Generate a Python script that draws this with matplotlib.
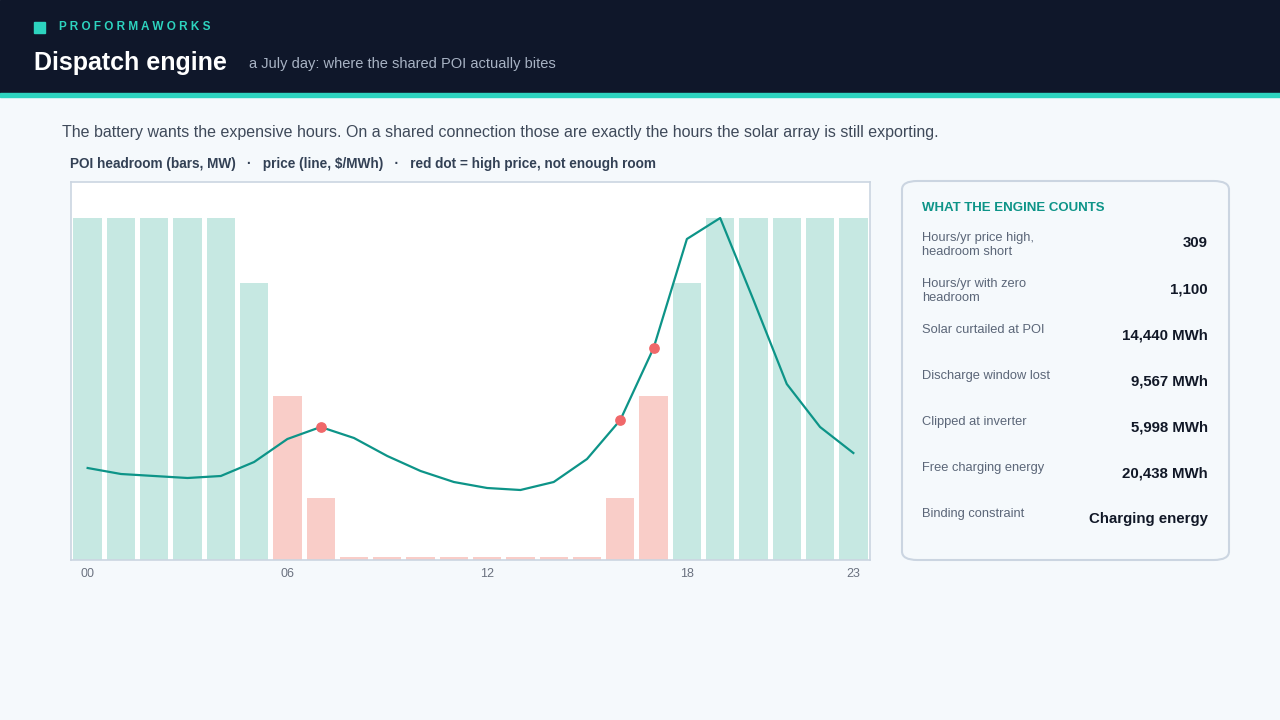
import numpy as np
import matplotlib.pyplot as plt
from matplotlib.patches import FancyBboxPatch, Rectangle

plt.rcParams['font.family'] = ['Liberation Sans', 'DejaVu Sans']

hours = np.arange(24)
headroom = [100, 100, 100, 100, 100, 81, 48, 18, 1, 1, 1, 1, 1, 1, 1, 1, 18, 48, 81, 100, 100, 100, 100, 100]
short = [False]*6 + [True]*12 + [False]*6
price = [46, 43, 42, 41, 42, 49, 60.5, 66.5, 61, 52, 44.5, 39, 36, 35, 39, 50.5, 70, 106, 160.5, 171, 130, 88, 66.5, 53.5]
flagged = [7, 16, 17]
tick_hours = [0, 6, 12, 18, 23]
tick_labels = ['00', '06', '12', '18', '23']

stats = [("Hours/yr price high,\nheadroom short", "309"),
         ("Hours/yr with zero\nheadroom", "1,100"),
         ("Solar curtailed at POI", "14,440 MWh"),
         ("Discharge window lost", "9,567 MWh"),
         ("Clipped at inverter", "5,998 MWh"),
         ("Free charging energy", "20,438 MWh"),
         ("Binding constraint", "Charging energy")]

W, H = 1280, 720
fig = plt.figure(figsize=(12.8, 7.2), dpi=100)
fig.patch.set_facecolor('#f5f9fc')

def fx(x): return x / W
def fy(y): return 1 - y / H

# header band
fig.add_artist(Rectangle((0, fy(93)), 1, 93 / H, transform=fig.transFigure, color='#0f172a', zorder=0))
fig.add_artist(Rectangle((0, fy(97)), 1, 4 / H, transform=fig.transFigure, color='#2dd4bf', zorder=0))
fig.add_artist(Rectangle((fx(34), fy(33)), 11 / W, 11 / H, transform=fig.transFigure, color='#2dd4bf'))
fig.text(fx(59), fy(27), 'P R O F O R M A W O R K S', color='#2dd4bf', fontsize=8.5, fontweight='bold', va='center')
fig.text(fx(34), fy(63), 'Dispatch engine', color='white', fontsize=18, fontweight='bold', va='center')
fig.text(fx(249), fy(64), 'a July day: where the shared POI actually bites', color='#a8b3c4', fontsize=10.5, va='center')
fig.text(fx(62), fy(132), 'The battery wants the expensive hours. On a shared connection those are exactly the hours the solar array is still exporting.',
         color='#3f4a5a', fontsize=11.5, va='center')
fig.text(fx(70), fy(164), 'POI headroom (bars, MW)   ·   price (line, $/MWh)   ·   red dot = high price, not enough room',
         color='#334155', fontsize=9.8, fontweight='bold', va='center')

# main chart
ax = fig.add_axes([fx(71), fy(560), (870 - 71) / W, (560 - 182) / H])
ax.set_facecolor('white')
colors = ['#f9cdc8' if s else '#c6e8e2' for s in short]
ax.bar(hours, headroom, width=0.85, color=colors, zorder=1)
ax.set_xlim(-0.5, 23.5)
ax.set_ylim(0, 110.5)
ax.set_yticks([])
ax.set_xticks(tick_hours)
ax.set_xticklabels(tick_labels, color='#6b7280', fontsize=9)
ax.tick_params(axis='x', length=0, pad=6)
for s in ax.spines.values():
    s.set_color('#cbd5e1')
    s.set_linewidth(1.2)

ax2 = ax.twinx()
ax2.plot(hours, price, color='#0d9488', lw=1.6, zorder=3)
ax2.scatter(flagged, [price[i] for i in flagged], color='#f0686a', s=45, zorder=4)
ax2.set_ylim(0, 189)
ax2.set_yticks([])
for s in ax2.spines.values():
    s.set_visible(False)

# stats card
card = FancyBboxPatch((fx(902), fy(560)), (1229 - 902) / W, (560 - 181) / H, transform=fig.transFigure,
                      boxstyle='round,pad=0,rounding_size=0.012', facecolor='#f5f9fc', edgecolor='#cbd5e1', lw=1.5)
fig.add_artist(card)
fig.text(fx(922), fy(208), 'WHAT THE ENGINE COUNTS', color='#0d9488', fontsize=9.5, fontweight='bold', va='center')
rows_y = [240, 286, 332, 378, 424, 470, 516]
for (lab, val), y in zip(stats, rows_y):
    fig.text(fx(922), fy(y - 8), lab, color='#5b6678', fontsize=9.3, va='top', linespacing=1.25)
    fig.text(fx(1208), fy(y + 3), val, color='#111827', fontsize=10.8, fontweight='bold', va='center', ha='right')

fig.savefig('out.png', dpi=100, facecolor=fig.get_facecolor())
